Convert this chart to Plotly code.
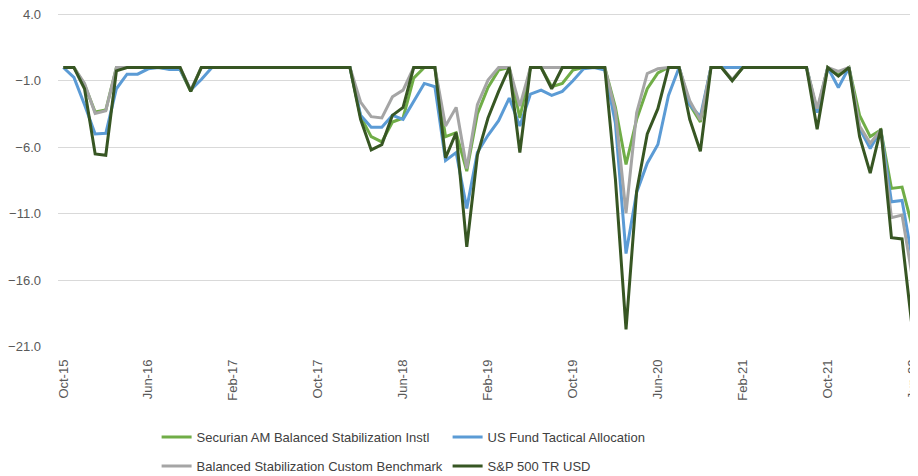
import pandas as pd
import plotly.graph_objects as go

# Monthly categories Oct-15 .. Jun-22
months = list(pd.date_range("2015-10-01", periods=81, freq="MS").strftime("%b-%y"))
tick_labels = months[::8]

series_names = [
    "Securian AM Balanced Stabilization Instl",
    "US Fund Tactical Allocation",
    "Balanced Stabilization Custom Benchmark",
    "S&P 500 TR USD",
]

securian = [
    0, 0, -1.3, -3.35, -3.2, 0, 0, 0, 0, 0,
    -0.1, -0.15, -1.8, 0, 0, 0, 0, 0, 0, 0,
    0, 0, 0, 0, 0, 0, 0, 0, -3.7, -5.2,
    -5.6, -4.1, -3.8, -0.8, 0, 0, -5.2, -4.9, -7.8, -3.5,
    -1.5, -0.2, 0, -3.8, 0, 0, -1.45, -1.2, -0.2, 0,
    0, 0, -3.0, -7.3, -3.9, -1.6, -0.4, 0, 0, -2.8,
    -4.1, 0, 0, -0.95, 0, 0, 0, 0, 0, 0,
    0, -3.3, 0, -0.55, 0, -3.6, -5.2, -4.7, -9.1, -9.0,
    -12.1]

tactical = [
    0, -0.75, -2.8, -5.0, -4.95, -1.6, -0.5, -0.5, -0.1, 0,
    -0.15, -0.15, -1.7, -0.9, 0, 0, 0, 0, 0, 0,
    0, 0, 0, 0, 0, 0, 0, 0, -3.6, -4.5,
    -4.5, -3.6, -3.9, -2.5, -1.2, -1.45, -7.0, -6.4, -10.6, -6.4,
    -5.1, -4.0, -2.3, -4.4, -2.0, -1.7, -2.1, -1.8, -1.0, -0.1,
    0, -0.2, -4.2, -14.0, -9.4, -7.2, -5.8, -2.1, 0, -2.8,
    -3.7, 0, 0, 0, 0, 0, 0, 0, 0, 0,
    0, -3.4, 0, -1.5, 0, -4.6, -6.1, -4.7, -10.1, -10.0,
    -14.6]

benchmark = [
    0, 0, -1.2, -3.45, -3.25, 0, 0, 0, 0, 0,
    0, 0, -1.7, 0, 0, 0, 0, 0, 0, 0,
    0, 0, 0, 0, 0, 0, 0, 0, -2.6, -3.7,
    -3.8, -2.2, -1.7, 0, 0, 0, -4.4, -3.0, -7.6, -2.8,
    -0.95, 0, 0, -2.9, 0, 0, 0, 0, 0, 0,
    0, 0, -3.3, -10.95, -3.4, -0.45, -0.1, 0, 0, -2.5,
    -3.95, 0, 0, -0.9, 0, 0, 0, 0, 0, 0,
    0, -3.1, 0, -0.3, 0, -4.4, -5.7, -4.7, -11.3, -11.1,
    -15.95]

sp500 = [
    0, 0, -1.6, -6.5, -6.6, -0.25, 0, 0, 0, 0,
    0, 0, -1.8, 0, 0, 0, 0, 0, 0, 0,
    0, 0, 0, 0, 0, 0, 0, 0, -3.9, -6.2,
    -5.8, -3.6, -3.0, 0, 0, 0, -6.8, -4.9, -13.5, -6.6,
    -3.8, -1.8, 0, -6.4, 0, 0, -1.6, 0, 0, 0,
    0, 0, -8.4, -19.7, -9.3, -5.0, -3.1, 0, 0, -3.9,
    -6.3, 0, 0, -1.0, 0, 0, 0, 0, 0, 0,
    0, -4.65, 0, -0.65, 0, -5.2, -7.95, -4.6, -12.8, -12.9,
    -19.95]

y_ticks = [4, -1, -6, -11, -16, -21]

colors = ["#70AD47", "#5B9BD5", "#A5A5A5", "#375623"]
legends = ["legend", "legend", "legend2", "legend2"]
data = [securian, tactical, benchmark, sp500]

FONT = "Liberation Sans, Arial, sans-serif"
TXT = "#595959"

fig = go.Figure()
for name, vals, col, lg in zip(series_names, data, colors, legends):
    fig.add_trace(go.Scatter(
        x=months, y=vals, name=name, mode="lines",
        line=dict(color=col, width=3), legend=lg,
    ))

legend_common = dict(orientation="h", xref="container", yref="container",
                     x=0.1633, xanchor="left", yanchor="top",
                     entrywidth=246, entrywidthmode="pixels",
                     font=dict(family=FONT, size=13, color="#404040"),
                     bgcolor="rgba(0,0,0,0)")

# page body has an 8px default margin, so the figure is sized to fit inside
fig.update_layout(
    width=910, height=468,
    margin=dict(l=50, r=0, t=5, b=129, autoexpand=False),
    plot_bgcolor="white", paper_bgcolor="white",
    font=dict(family=FONT, size=13, color=TXT),
    showlegend=True,
    legend=dict(legend_common, y=0.1154),
    legend2=dict(legend_common, y=0.0534),
)
fig.update_xaxes(
    type="category", range=[-0.5, 80.5], automargin=False,
    tickmode="array", tickvals=tick_labels, ticktext=tick_labels,
    tickangle=-90, showgrid=False, showline=False, ticks="",
    zeroline=False, ticklabelstandoff=9, ticklabeloverflow="allow",
    tickfont=dict(family=FONT, size=13, color=TXT),
)
fig.update_yaxes(
    range=[-21.03, 4.1], automargin=False, tickmode="array", tickvals=y_ticks,
    tickformat=".1f",
    showgrid=True, gridcolor="#D9D9D9", gridwidth=1,
    zeroline=False, showline=False, ticks="", ticklabelstandoff=16,
    ticklabeloverflow="allow",
    tickfont=dict(family=FONT, size=13, color=TXT),
)

fig.write_html("out.html")
